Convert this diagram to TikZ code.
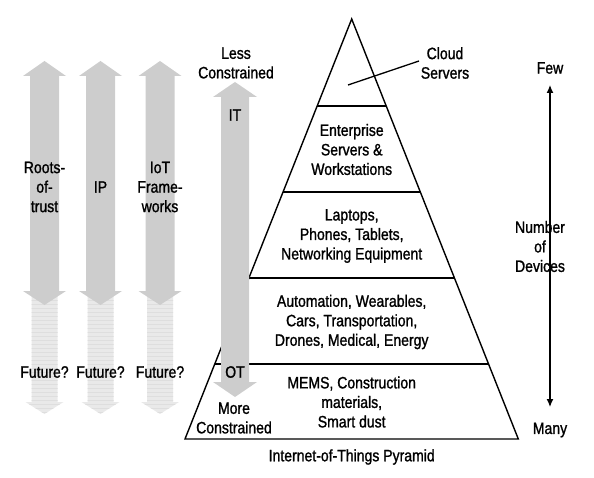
\documentclass[tikz,border=0pt]{standalone}
\usepackage{fontspec}
\setmainfont{Liberation Sans}[FakeStretch=0.85,FakeBold=1.2]
\usetikzlibrary{arrows.meta,calc}
\definecolor{arrdark}{RGB}{205,205,205}
\definecolor{arrlight}{RGB}{233,233,233}
\definecolor{arrstripe}{RGB}{222,222,222}
\begin{document}
\begin{tikzpicture}[x=1pt,y=-1pt,
  lbl/.style={inner sep=0pt,align=center,font=\fontsize{16.5}{19.5}\selectfont},
  pyr/.style={line width=1.4pt,line join=miter},
  cnt/.style={line width=1.3pt}]
\useasboundingbox (0,0) rectangle (594,478);

% ---- left gray arrows ----
\foreach \c in {44.5,100.5,160}{
  % light (future) arrow
  \begin{scope}
    \clip (\c-13,291) -- (\c+13,291) -- (\c+13,402) -- (\c+19,402) -- (\c,414) -- (\c-19,402) -- (\c-13,402) -- cycle;
    \fill[arrlight] (\c-20,290) rectangle (\c+20,415);
    \foreach \yy in {300,304,...,412}{\draw[arrstripe,line width=0.6pt] (\c-20,\yy) -- (\c+20,\yy);}
  \end{scope}
  % dark double arrow
  \fill[arrdark] (\c,61) -- (\c+21.5,76) -- (\c+14.5,76) -- (\c+14.5,291) -- (\c+21.5,291) -- (\c,305)
     -- (\c-21.5,291) -- (\c-14.5,291) -- (\c-14.5,76) -- (\c-21.5,76) -- cycle;
}

\node[lbl] (roots) at (44.5,187) {Roots-\\of-\\trust};
\node[lbl] (ip) at (100.5,187) {IP};
\node[lbl] (iotf) at (160,187) {IoT\\Frame-\\works};
\node[lbl] (fut1) at (44.5,372) {Future?};
\node[lbl] (fut2) at (100.5,372) {Future?};
\node[lbl] (fut3) at (160,372) {Future?};

% ---- pyramid ----
\coordinate (apex) at (351.7,19);
\coordinate (bl) at (185,439);
\coordinate (br) at (518.3,439);
\draw[pyr] (apex) -- (br) -- (bl) -- cycle;
\foreach \yy in {106,192,278,364}{
  \draw[pyr] ($(apex)!{(\yy-19)/420}!(bl)$) -- ($(apex)!{(\yy-19)/420}!(br)$);
}

% ---- IT / OT arrow ----
\fill[arrdark] (235,82) -- (257,97) -- (249,97) -- (249,382) -- (257,382) -- (235,397)
   -- (213,382) -- (221,382) -- (221,97) -- (213,97) -- cycle;
\node[lbl] (less) at (236,63) {Less\\Constrained};
\node[lbl] (it) at (235,115) {IT};
\node[lbl] (ot) at (235,372) {OT};
\node[lbl] (more) at (234,418) {More\\Constrained};

% ---- pyramid labels ----
\node[lbl] (cloud) at (445,63) {Cloud\\Servers};
\coordinate (cloudin) at (348,85);
\coordinate (cloudout) at (419,61);
\draw[cnt] (cloudin) -- (cloudout);
\node[lbl] (ent) at (351.7,149.5) {Enterprise\\Servers \&\\Workstations};
\node[lbl] (lap) at (351.7,236) {Laptops,\\Phones, Tablets,\\Networking Equipment};
\node[lbl] (aut) at (351.7,322) {Automation, Wearables,\\Cars, Transportation,\\Drones, Medical, Energy};
\node[lbl] (mems) at (351.7,402) {MEMS, Construction\\materials,\\Smart dust};
\node[lbl] (title) at (351.7,457) {Internet-of-Things Pyramid};

% ---- number of devices ----
\node[lbl] (few) at (550,68) {Few};
\node[lbl] (many) at (550,430) {Many};
\node[lbl] (num) at (540,246.5) {Number\\of\\Devices};
\coordinate (top) at (550,85);
\coordinate (bot) at (550,407);
\draw[cnt,{Latex[length=8pt,width=7pt]}-{Latex[length=8pt,width=7pt]}] (top) -- (bot);
\end{tikzpicture}
\end{document}
